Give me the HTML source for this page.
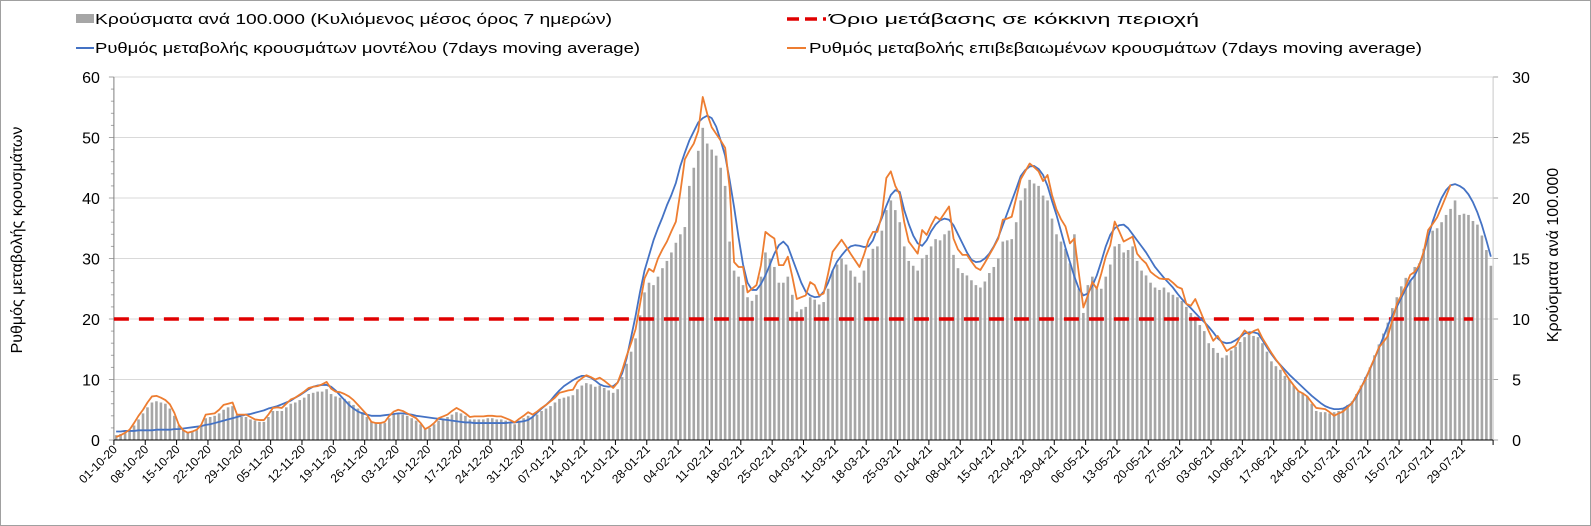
<!DOCTYPE html>
<html><head><meta charset="utf-8">
<style>
html,body{margin:0;padding:0;background:#fff;}
svg{display:block;font-family:"Liberation Sans",Arial,sans-serif;}
</style></head>
<body>
<svg id="chart" width="1591" height="526" viewBox="0 0 1591 526" xmlns="http://www.w3.org/2000/svg">
<rect x="0.5" y="0.5" width="1590" height="525" fill="#fff" stroke="#a0a0a0"/>
<g id="legend">
  <g>
    <rect x="76" y="14" width="18" height="9" fill="#a6a6a6"/>
    <text x="95" y="24" font-size="15" textLength="517" lengthAdjust="spacingAndGlyphs">Κρούσματα ανά 100.000 (Κυλιόμενος μέσος όρος 7 ημερών)</text>
  </g>
  <g>
    <line x1="76" y1="48" x2="94" y2="48" stroke="#4472c4" stroke-width="2"/>
    <text x="95" y="53" font-size="15" textLength="545" lengthAdjust="spacingAndGlyphs">Ρυθμός μεταβολής κρουσμάτων μοντέλου (7days moving average)</text>
  </g>
  <g>
    <line x1="787" y1="19" x2="826" y2="19" stroke="#e00000" stroke-width="3.5" stroke-dasharray="12,6"/>
    <text x="829" y="24" font-size="15" textLength="370" lengthAdjust="spacingAndGlyphs">Όριο μετάβασης σε κόκκινη περιοχή</text>
  </g>
  <g>
    <line x1="787" y1="48" x2="806" y2="48" stroke="#ed7d31" stroke-width="2"/>
    <text x="809" y="53" font-size="15" textLength="613" lengthAdjust="spacingAndGlyphs">Ρυθμός μεταβολής επιβεβαιωμένων κρουσμάτων (7days moving average)</text>
  </g>
</g>
<g id="grid"></g>
<g id="bars"></g>
<g id="axes"></g>
<g id="lines"></g>
<text transform="translate(22,240) rotate(-90)" text-anchor="middle" font-size="16">Ρυθμός μεταβολής κρουσμάτων</text>
<text transform="translate(1558,255) rotate(-90)" text-anchor="middle" font-size="16">Κρούσματα ανά 100.000</text>
</svg>
<script>
const startDate = "01-10-20";
const xTickLabels = ["01-10-20","08-10-20","15-10-20","22-10-20","29-10-20","05-11-20","12-11-20","19-11-20","26-11-20","03-12-20","10-12-20","17-12-20","24-12-20","31-12-20","07-01-21","14-01-21","21-01-21","28-01-21","04-02-21","11-02-21","18-02-21","25-02-21","04-03-21","11-03-21","18-03-21","25-03-21","01-04-21","08-04-21","15-04-21","22-04-21","29-04-21","06-05-21","13-05-21","20-05-21","27-05-21","03-06-21","10-06-21","17-06-21","24-06-21","01-07-21","08-07-21","15-07-21","22-07-21","29-07-21"];
const leftTicks = [0,10,20,30,40,50,60];
const rightTicks = [0,5,10,15,20,25,30];
const redThreshold = 20;
const casesPer100k = [
0.4,0.5,0.6,0.8,1.2,1.7,2.2,2.7,3.1,3.2,
3.1,3.0,2.6,2.0,1.2,0.8,0.6,0.7,0.8,1.1,
1.8,1.9,2.0,2.2,2.5,2.7,2.8,2.1,1.9,1.9,
1.7,1.6,1.5,1.5,1.9,2.4,2.4,2.4,2.7,3.0,
3.1,3.3,3.5,3.8,3.9,4.0,4.0,4.2,3.8,3.6,
3.5,3.4,3.2,2.9,2.6,2.3,1.9,1.5,1.4,1.4,
1.4,1.8,2.1,2.2,2.1,2.0,1.8,1.6,1.3,1.0,
1.0,1.3,1.6,1.7,1.9,2.1,2.3,2.2,2.0,1.7,
1.7,1.7,1.7,1.8,1.8,1.7,1.7,1.6,1.5,1.3,
1.6,1.8,2.0,1.9,2.1,2.4,2.6,2.8,3.1,3.4,
3.5,3.6,3.7,4.2,4.5,4.7,4.6,4.4,4.5,4.3,
4.1,3.9,4.2,5.2,6.3,7.3,8.4,10.3,12.2,13.0,
12.8,13.5,14.2,14.8,15.5,16.3,17.0,17.6,21.0,22.5,
23.9,25.8,24.5,24.0,23.5,22.5,21.0,16.4,14.0,13.5,
12.8,11.8,11.5,12.0,13.5,15.5,15.0,14.3,13.0,13.0,
13.5,12.0,10.6,10.8,11.0,11.8,11.6,11.2,11.4,12.5,
14.0,14.5,15.0,14.5,14.0,13.5,13.0,14.0,15.0,15.8,
16.0,17.3,19.0,19.8,19.0,18.0,16.0,14.8,14.4,14.0,
15.0,15.3,16.0,16.6,16.5,17.0,17.3,15.3,14.2,13.8,
13.6,13.2,12.8,12.6,13.1,13.8,14.3,15.0,16.4,16.5,
16.6,18.0,19.8,20.8,21.5,21.2,21.0,20.2,19.8,18.3,
17.0,16.4,15.8,14.6,17.0,12.5,10.5,12.8,13.5,12.5,
12.5,13.5,14.5,16.0,16.2,15.5,15.7,16.0,14.8,14.0,
13.6,13.0,12.6,12.4,12.6,12.2,12.0,11.8,11.5,11.0,
10.5,10.2,9.5,9.0,8.0,7.6,7.2,6.8,7.0,7.4,
7.7,8.1,8.5,8.8,8.6,8.5,8.0,7.3,6.5,6.1,
5.8,5.3,5.0,4.5,4.0,3.9,3.6,3.0,2.4,2.3,
2.3,2.2,2.3,2.4,2.6,2.9,3.2,3.8,4.5,5.2,
6.0,7.0,7.9,8.8,9.7,10.9,11.8,12.7,13.4,13.2,
14.3,14.6,15.8,16.8,17.3,17.5,18.0,18.6,19.1,19.8,
18.6,18.7,18.6,18.1,17.8,16.9,15.7,14.4];
const modelRate = [
1.4,1.4,1.5,1.5,1.5,1.6,1.6,1.6,1.6,1.7,
1.7,1.7,1.7,1.8,1.8,1.9,2.0,2.1,2.2,2.3,
2.5,2.6,2.8,3.0,3.2,3.4,3.6,3.8,4.0,4.2,
4.3,4.5,4.7,4.9,5.2,5.4,5.6,5.9,6.2,6.5,
7.0,7.4,7.9,8.4,8.8,9.0,9.1,9.1,8.8,8.2,
7.4,6.6,5.8,5.2,4.7,4.4,4.2,4.0,4.0,4.0,
4.1,4.2,4.3,4.4,4.4,4.3,4.2,4.0,3.9,3.8,
3.7,3.6,3.5,3.4,3.3,3.2,3.1,3.0,2.9,2.9,
2.8,2.8,2.8,2.8,2.8,2.8,2.8,2.8,2.9,2.9,
3.0,3.1,3.3,3.8,4.5,5.2,5.8,6.5,7.4,8.2,
8.9,9.4,9.9,10.3,10.6,10.6,10.3,9.8,9.2,8.9,
8.8,8.9,9.5,11.0,13.5,17.0,20.5,24.5,28.0,30.5,
33.0,35.0,36.8,38.8,40.5,42.5,45.3,47.5,49.5,51.0,
52.5,53.2,53.6,53.2,51.8,49.5,47.0,43.0,38.5,33.5,
29.0,26.0,24.8,24.8,25.8,27.2,29.0,30.8,32.2,32.8,
32.0,30.0,28.0,26.0,24.5,23.9,23.6,23.7,24.5,26.0,
28.0,29.5,30.5,31.4,32.0,32.2,32.1,31.9,32.0,33.0,
35.0,36.7,38.7,40.5,41.3,41.0,38.0,35.7,33.8,32.5,
32.1,33.0,34.5,35.6,36.3,36.6,36.4,35.5,34.0,32.5,
31.0,29.8,29.4,29.5,30.0,30.8,32.0,33.5,35.5,37.5,
39.5,41.5,43.6,44.6,45.2,45.3,44.8,43.8,42.0,39.5,
37.2,34.5,31.8,29.4,27.0,25.0,23.9,24.2,25.5,27.2,
29.5,32.0,33.9,35.0,35.5,35.6,35.0,34.0,33.0,32.0,
31.0,29.8,28.6,27.7,26.8,26.0,25.2,24.2,23.3,22.5,
21.8,21.0,20.2,19.5,18.7,17.8,16.8,16.2,16.0,16.1,
16.5,17.0,17.6,17.8,17.8,17.6,16.5,15.3,14.2,13.2,
12.4,11.6,10.8,10.1,9.4,8.7,8.0,7.3,6.7,6.1,
5.6,5.3,5.1,5.1,5.2,5.6,6.1,7.2,8.6,10.2,
11.7,13.4,15.2,17.0,18.9,20.6,22.0,23.5,25.0,26.3,
27.2,28.8,31.0,33.5,36.1,38.2,40.0,41.3,42.1,42.3,
42.0,41.5,40.6,39.3,37.6,35.5,33.0,30.3];
const confirmedRate = [
0.5,0.8,1.2,1.7,2.8,4.0,5.0,6.2,7.2,7.3,
7.0,6.6,5.9,4.5,2.5,1.6,1.2,1.4,1.7,2.5,
4.2,4.3,4.4,5.0,5.8,6.0,6.2,4.2,4.2,4.2,
3.8,3.4,3.3,3.3,4.2,5.3,5.4,5.3,6.0,6.7,
7.0,7.5,8.0,8.6,8.8,8.9,9.2,9.6,8.5,8.0,
7.9,7.6,7.2,6.6,5.8,5.0,4.2,3.0,2.8,2.8,
3.0,4.0,4.7,5.0,4.8,4.4,4.0,3.6,2.8,1.8,
2.2,2.8,3.6,3.9,4.2,4.8,5.3,4.9,4.4,3.8,
3.9,3.9,3.9,4.0,4.0,3.9,3.9,3.6,3.3,2.9,
3.5,4.0,4.6,4.2,4.7,5.3,5.8,6.4,7.0,7.8,
8.0,8.2,8.3,9.6,10.2,10.7,10.4,10.0,10.3,9.8,
9.2,8.6,9.5,11.5,13.9,16.0,18.3,22.5,26.7,28.3,
27.8,30.0,31.5,32.8,34.5,36.1,41.0,46.4,47.8,49.0,
51.1,56.7,53.9,51.7,50.6,49.5,48.3,41.7,29.4,28.6,
28.6,24.4,25.0,25.6,28.9,34.4,33.8,33.3,28.9,28.9,
30.3,27.0,23.3,23.6,23.9,26.1,25.6,23.9,24.2,27.5,
31.1,32.1,33.1,32.0,30.8,29.7,28.6,30.6,33.0,34.4,
34.4,37.2,43.3,44.4,42.0,40.6,36.0,32.8,31.8,30.8,
34.7,33.9,35.5,36.9,36.4,37.5,38.6,33.3,31.5,30.6,
30.6,29.5,28.5,28.1,29.3,30.6,31.9,33.3,36.4,36.6,
36.9,40.0,43.1,44.4,45.7,45.1,44.4,42.8,43.8,40.5,
38.1,36.5,35.3,32.5,33.3,27.5,21.9,23.9,26.1,25.0,
27.5,30.3,32.2,36.1,34.5,32.8,33.2,33.6,30.8,29.9,
29.2,27.8,27.2,26.7,26.6,26.6,26.0,25.3,25.0,22.5,
22.2,23.3,21.5,19.7,18.0,16.4,17.2,16.0,14.7,15.2,
15.6,17.0,18.1,17.5,18.0,18.3,16.8,15.6,14.4,13.3,
12.3,11.1,10.0,9.0,8.1,7.7,7.2,6.2,5.3,5.2,
5.1,4.6,4.0,4.4,4.7,5.4,6.1,7.4,8.7,10.0,
11.8,13.5,15.3,16.2,17.2,19.8,22.5,23.9,25.5,27.3,
27.8,28.9,31.1,34.7,35.7,36.8,38.5,40.3,42.2];

const NS = "http://www.w3.org/2000/svg";
const X0 = 113.9, X1 = 1493.1, Y0 = 440, YT = 77;
const nCat = casesPer100k.length;
const step = (X1 - X0) / nCat;
function xCenter(i){ return X0 + (i + 0.5) * step; }
function xBoundary(i){ return X0 + i * step; }
function yLeft(v){ return Y0 - v / 60 * (Y0 - YT); }
function yRight(v){ return Y0 - v / 30 * (Y0 - YT); }
function mk(tag, attrs, parent){
  const e = document.createElementNS(NS, tag);
  for (const k in attrs) e.setAttribute(k, attrs[k]);
  parent.appendChild(e);
  return e;
}
const grid = document.getElementById('grid');
const axes = document.getElementById('axes');
const barsG = document.getElementById('bars');
const linesG = document.getElementById('lines');

leftTicks.forEach(function(v){
  const y = yLeft(v);
  if (v > 0) {
    const g = mk('line', {x1:X0, x2:X1+4, y1:y, y2:y, stroke:'#d9d9d9', 'stroke-width':1}, grid);
    
    
  }
  const t = mk('text', {x:X0-14, y:y+6, 'text-anchor':'end', 'font-size':16, fill:'#000'}, axes);
  t.textContent = v;
  
  
  mk('line', {x1:X0-5, x2:X0, y1:y, y2:y, stroke:'#a6a6a6', 'stroke-width':1}, axes);
});
for (let v = 2; v < 60; v += 2) {
  if (v % 10 === 0) continue;
  mk('line', {x1:X0-3, x2:X0, y1:yLeft(v), y2:yLeft(v), stroke:'#a6a6a6', 'stroke-width':1}, axes);
}
rightTicks.forEach(function(v){
  const y = yRight(v);
  const t = mk('text', {x:X1+19, y:y+6, 'text-anchor':'start', 'font-size':16, fill:'#000'}, axes);
  t.textContent = v;
  
  
  mk('line', {x1:X1, x2:X1+5, y1:y, y2:y, stroke:'#a6a6a6', 'stroke-width':1}, axes);
});

casesPer100k.forEach(function(v, i){
  const y = yRight(v);
  const b = mk('rect', {x:(xCenter(i)-1.3).toFixed(2), y:y.toFixed(2), width:2.6, height:(Y0-y).toFixed(2), fill:'#a6a6a6'}, barsG);
  
  
});

const la = mk('line', {x1:X0, x2:X0, y1:YT, y2:Y0, stroke:'#808080', 'stroke-width':1}, axes);


const ra = mk('line', {x1:X1, x2:X1, y1:YT, y2:Y0, stroke:'#c8c8c8', 'stroke-width':1}, axes);


const xa = mk('line', {x1:X0, x2:X1, y1:Y0, y2:Y0, stroke:'#000', 'stroke-width':1}, axes);



xTickLabels.forEach(function(lbl, k){
  const x = xBoundary(k * 7);
  mk('line', {x1:x, x2:x, y1:Y0, y2:Y0+5, stroke:'#000', 'stroke-width':1}, axes);
  const t = mk('text', {transform:'translate(' + (x+4).toFixed(1) + ',' + (Y0+10) + ') rotate(-45)', 'text-anchor':'end', 'font-size':12, fill:'#000'}, axes);
  t.textContent = lbl;
  
  
});
mk('line', {x1:X1, x2:X1, y1:Y0, y2:Y0+5, stroke:'#000', 'stroke-width':1}, axes);

const red = mk('line', {x1:X0, x2:X1-20, y1:yLeft(redThreshold), y2:yLeft(redThreshold), stroke:'#e00000', 'stroke-width':3.5, 'stroke-dasharray':'15,10'}, linesG);



function pathFrom(arr){
  return arr.map(function(v, i){ return (i ? 'L' : 'M') + xCenter(i).toFixed(2) + ',' + yLeft(v).toFixed(2); }).join(' ');
}
const blue = mk('path', {d:pathFrom(modelRate), fill:'none', stroke:'#4472c4', 'stroke-width':1.8, 'stroke-linejoin':'round'}, linesG);


const orange = mk('path', {d:pathFrom(confirmedRate), fill:'none', stroke:'#ed7d31', 'stroke-width':1.8, 'stroke-linejoin':'round'}, linesG);


</script>
</body></html>
